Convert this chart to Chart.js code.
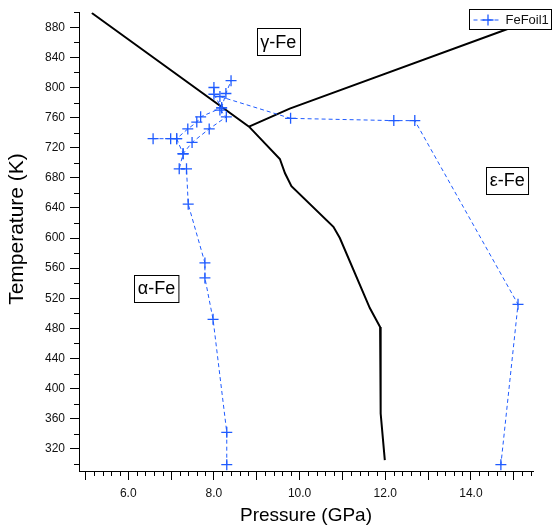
<!DOCTYPE html>
<html>
<head>
<meta charset="utf-8">
<script src="https://cdn.jsdelivr.net/npm/chart.js@4.4.1/dist/chart.umd.min.js"></script>
<style>
html, body { margin: 0; padding: 0; background: #fff; }
canvas { display: block; }
</style>
</head>
<body>
<canvas id="myChart" width="552" height="529"></canvas>
<script>
"use strict";

// FeFoil1 run: pressure (GPa) and temperature (K), null = break in the dashed path
let foilP = [8.30, 8.30, 7.98, 7.79, 7.79, 7.40, 7.36, 7.19, 7.28, 7.49, 7.89, 8.29, 8.14, 8.18, 8.28, 8.40, null,
             8.00, 8.00, 8.18, 7.69, 7.60, 7.39, 7.13, 6.99, 6.58, null,
             7.13, 7.28, null,
             8.14, 9.79, 12.20, 12.69, 15.10, 14.70];
let foilT = [299, 342, 492, 547, 567, 645, 692, 692, 712, 727, 745, 761, 770, 773, 792, 809, null,
             800, 791, 773, 761, 754, 745, 732, 732, 732, null,
             732, 712, null,
             788, 759, 756, 756, 512, 299];

// alpha/gamma + alpha/epsilon boundary
let boundP = [5.15, 8.82, 9.54, 9.66, 9.81, 10.79, 10.94, 11.64, 11.88, 11.90, 11.90, 11.88, 11.99];
let boundT = [899, 748, 705, 686, 669, 615, 600, 507, 482, 465, 370, 367, 305];

// gamma/epsilon boundary
let gammaP = [8.82, 9.77, 15.40];
let gammaT = [748, 772, 889];

let phaseNames = ["α-Fe", "γ-Fe", "ε-Fe"];
let phaseP = [6.66, 9.50, 14.85];
let phaseT = [533, 861, 677];

let xTicks = [5, 6, 7, 8, 9, 10, 11, 12, 13, 14, 15];
let yTicks = [320, 360, 400, 440, 480, 520, 560, 600, 640, 680, 720, 760, 800, 840, 880];

let BLUE = "#1f5bff";
let FONT = "'Liberation Sans', Arial, sans-serif";

function toPoints(px, py) {
    let pts = [];
    for (let i = 0; i < px.length; i++) pts.push({x: px[i], y: py[i]});
    return pts;
}

function drawCross(ctx, x, y, r) {
    ctx.beginPath();
    ctx.moveTo(x - r, y); ctx.lineTo(x + r, y);
    ctx.moveTo(x, y - r); ctx.lineTo(x, y + r);
    ctx.stroke();
}

let extras = {
    id: "extras",
    afterDatasetsDraw(chart) {
        let ctx = chart.ctx;
        let xs = chart.scales.x, ys = chart.scales.y;
        let area = chart.chartArea;
        ctx.save();

        // minor ticks
        ctx.strokeStyle = "#000";
        ctx.lineWidth = 1;
        ctx.beginPath();
        for (let v = 5; v <= 15.4; v += 0.2) {
            let r = Math.round(v * 10) / 10;
            if (Math.abs(r - Math.round(r)) < 1e-6) continue;
            let px = Math.round(xs.getPixelForValue(r)) + 0.5;
            ctx.moveTo(px, area.bottom); ctx.lineTo(px, area.bottom + 5);
        }
        for (let v = 300; v <= 900; v += 40) {
            let py = Math.round(ys.getPixelForValue(v)) + 0.5;
            ctx.moveTo(area.left, py); ctx.lineTo(area.left - 5, py);
        }
        ctx.stroke();

        // y axis title
        ctx.fillStyle = "#000";
        ctx.font = "21px " + FONT;
        ctx.textAlign = "center";
        ctx.textBaseline = "middle";
        ctx.save();
        ctx.translate(17, 229);
        ctx.rotate(-Math.PI / 2);
        ctx.fillText("Temperature (K)", 0, 0);
        ctx.restore();

        // phase labels
        ctx.font = "18px " + FONT;
        for (let i = 0; i < phaseNames.length; i++) {
            let cx = xs.getPixelForValue(phaseP[i]);
            let cy = ys.getPixelForValue(phaseT[i]);
            let w = ctx.measureText(phaseNames[i]).width + 7;
            let h = 27;
            let bx = Math.round(cx - w / 2) + 0.5, by = Math.round(cy - h / 2) + 0.5;
            ctx.fillStyle = "#fff";
            ctx.fillRect(bx, by, w, h);
            ctx.strokeStyle = "#000";
            ctx.strokeRect(bx, by, w, h);
            ctx.fillStyle = "#000";
            ctx.fillText(phaseNames[i], cx, cy + 1);
        }

        // legend box
        let ds = chart.data.datasets[0];
        let lx = 469.5, ly = 9.5, lw = 82, lh = 20;
        ctx.fillStyle = "#fff";
        ctx.fillRect(lx, ly, lw, lh);
        ctx.strokeStyle = "#000";
        ctx.strokeRect(lx, ly, lw, lh);
        ctx.strokeStyle = ds.borderColor;
        ctx.lineWidth = 1;
        ctx.setLineDash(ds.borderDash);
        ctx.beginPath();
        ctx.moveTo(lx + 4, ly + 10.5); ctx.lineTo(lx + 32, ly + 10.5);
        ctx.stroke();
        ctx.setLineDash([]);
        ctx.lineWidth = 1.3;
        drawCross(ctx, lx + 18.5, ly + 10.5, 5.5);
        ctx.fillStyle = "#111";
        ctx.font = "13px " + FONT;
        ctx.textAlign = "left";
        ctx.fillText(ds.label, lx + 36, ly + 11);
        ctx.restore();
    }
};

let ctxChart = document.getElementById("myChart");
let newChart = new Chart(ctxChart, {
    type: "scatter",
    data: {
        datasets: [
            {
                label: "FeFoil1",
                data: toPoints(foilP, foilT),
                showLine: true,
                spanGaps: false,
                borderColor: BLUE,
                borderWidth: 1,
                borderDash: [4, 3],
                pointStyle: "cross",
                pointRadius: 5.5,
                pointBorderWidth: 1.3,
                pointBorderColor: BLUE,
                pointBackgroundColor: BLUE
            },
            {
                label: "boundary",
                data: toPoints(boundP, boundT),
                showLine: true,
                borderColor: "#000",
                borderWidth: 2,
                pointRadius: 0
            },
            {
                label: "gamma",
                data: toPoints(gammaP, gammaT),
                showLine: true,
                borderColor: "#000",
                borderWidth: 2,
                pointRadius: 0
            }
        ]
    },
    options: {
        responsive: false,
        animation: false,
        layout: { padding: { top: 12, right: 19, left: 0, bottom: 0 } },
        plugins: {
            legend: { display: false },
            tooltip: { enabled: false }
        },
        scales: {
            x: {
                type: "linear",
                min: 4.85,
                max: 15.45,
                afterBuildTicks: function (s) { s.ticks = xTicks.map(v => ({value: v})); },
                afterFit: function (s) { s.height = 58; },
                border: { display: true, color: "#000", width: 1 },
                grid: { drawOnChartArea: false, drawTicks: true, tickLength: 9, tickColor: "#000" },
                ticks: {
                    color: "#111",
                    padding: 6,
                    maxRotation: 0,
                    autoSkip: false,
                    font: { family: FONT, size: 12 },
                    callback: function (v) { return v % 2 === 0 ? v.toFixed(1) : ""; }
                },
                title: {
                    display: true,
                    text: "Pressure (GPa)",
                    color: "#000",
                    font: { family: FONT, size: 19 },
                    padding: { top: 0, bottom: 2 }
                }
            },
            y: {
                type: "linear",
                min: 290.6,
                max: 900,
                afterBuildTicks: function (s) { s.ticks = yTicks.map(v => ({value: v})); },
                afterFit: function (s) { s.width = 79; },
                border: { display: true, color: "#000", width: 1 },
                grid: { drawOnChartArea: false, drawTicks: true, tickLength: 9, tickColor: "#000" },
                ticks: {
                    color: "#111",
                    padding: 5,
                    autoSkip: false,
                    font: { family: FONT, size: 12 }
                },
                title: { display: false }
            }
        }
    },
    plugins: [extras]
});
</script>
</body>
</html>
